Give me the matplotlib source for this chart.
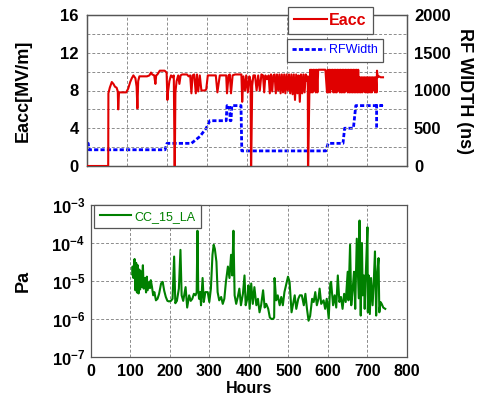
import matplotlib
matplotlib.use("Agg")
import matplotlib.pyplot as plt
from matplotlib.lines import Line2D

plt.rcParams['font.family'] = ['Liberation Sans', 'DejaVu Sans']
plt.rcParams['mathtext.fontset'] = 'custom'
plt.rcParams['mathtext.rm'] = 'Liberation Sans:bold'
plt.rcParams['mathtext.it'] = 'Liberation Sans:bold'
plt.rcParams['mathtext.bf'] = 'Liberation Sans:bold'

# ---------------- data ----------------
# Eacc [MV/m] vs hours (four segments separated by trips to zero)
eacc_h1 = [0, 53, 53.5, 57, 62, 66, 70, 74, 77, 78,
           80, 84, 90, 98, 103, 108, 112, 116, 121, 124,
           126, 128, 131, 140, 150, 156, 160, 163, 168, 171,
           173, 176, 182, 188, 194, 199, 201, 203, 206, 210,
           214, 217]
eacc_v1 = [0, 0, 7.7, 8.3, 8.9, 8.7, 8.4, 8.3, 7.9, 6.0,
           7.8, 7.8, 7.8, 7.8, 8.2, 8.9, 9.3, 9.6, 9.3, 8.4,
           6.1, 9.0, 9.5, 9.5, 9.5, 9.6, 9.9, 9.7, 9.6, 8.7,
           9.6, 9.7, 10.1, 10.1, 10.1, 9.9, 7.0, 8.0, 9.0, 9.6,
           9.4, 9.6]
eacc_h2 = [219, 219.5, 221, 224, 228, 231, 234, 238, 242, 246,
           250, 254, 258, 261, 264, 268, 272, 275, 278, 282,
           286, 290, 294, 298, 302, 308, 314, 318, 322, 326,
           332, 338, 344, 348, 350, 354, 357, 360, 364, 370,
           376, 382, 386, 388, 391, 395, 398, 402, 406, 409,
           410]
eacc_v2 = [0, 0, 7.8, 9.0, 9.6, 8.7, 9.6, 9.7, 9.7, 9.7,
           9.7, 9.5, 9.6, 7.7, 9.6, 9.7, 7.7, 9.7, 7.9, 9.6,
           8.0, 8.0, 8.0, 8.1, 9.6, 9.6, 9.6, 9.6, 9.6, 7.8,
           9.6, 9.6, 9.6, 9.6, 7.7, 9.6, 9.7, 7.7, 9.6, 9.7,
           9.7, 9.7, 9.7, 6.8, 9.5, 8.0, 9.6, 7.8, 9.5, 9.0,
           0]
eacc_h3 = [410.5, 413, 416, 420, 424, 428, 432, 436, 440, 443,
           446, 450, 454, 457, 460, 463, 466, 469, 472, 475,
           478, 481, 484, 487, 490, 493, 496, 499, 502, 505,
           508, 511, 514, 517, 520, 523, 526, 529, 532, 535,
           538, 541, 544, 547, 550, 552, 552.5]
eacc_v3 = [0, 8.5, 9.6, 9.6, 8.0, 9.6, 8.0, 9.7, 9.6, 7.8,
           9.6, 9.2, 9.6, 7.7, 9.7, 7.9, 9.6, 9.7, 7.7, 9.7,
           8.0, 9.7, 7.7, 9.7, 7.8, 9.7, 7.7, 9.7, 8.0, 9.7,
           7.7, 9.7, 7.6, 9.7, 7.0, 9.7, 7.7, 9.6, 6.8, 9.7,
           7.7, 9.7, 7.8, 9.7, 9.0, 9.5, 0]
eacc_h4 = [553, 556, 558, 560, 562, 564, 566, 568, 570, 572,
           574, 576, 578, 580, 584, 590, 596, 600, 602, 604,
           606, 608, 610, 612, 614, 616, 618, 620, 622, 624,
           626, 628, 630, 632, 634, 636, 638, 640, 642, 644,
           646, 648, 650, 652, 654, 656, 658, 660, 662, 664,
           666, 668, 670, 672, 674, 676, 678, 680, 682, 684,
           686, 688, 690, 692, 694, 696, 698, 700, 702, 704,
           706, 708, 710, 712, 714, 716, 718, 720, 722, 724,
           725, 727, 730, 734, 740]
eacc_v4 = [0, 8.0, 10.2, 7.8, 10.2, 7.8, 10.2, 8.0, 10.2, 7.8,
           10.2, 7.8, 10.2, 10.2, 10.2, 10.2, 10.2, 7.8, 10.2, 7.8,
           10.2, 7.8, 10.2, 8.2, 10.2, 7.8, 10.2, 7.8, 10.2, 7.8,
           10.2, 8.0, 10.2, 7.8, 10.2, 7.8, 10.2, 7.8, 10.2, 7.8,
           10.2, 8.0, 10.2, 7.8, 10.2, 7.8, 10.2, 7.8, 10.2, 7.8,
           10.2, 7.8, 10.2, 7.8, 10.2, 7.8, 10.2, 7.8, 9.4, 7.8,
           9.4, 7.8, 9.4, 7.9, 9.4, 7.8, 9.4, 7.8, 9.4, 7.8,
           9.4, 7.8, 9.4, 7.8, 9.4, 8.0, 9.4, 7.8, 9.4, 7.8,
           10.1, 9.4, 9.5, 9.4, 9.4]

# RF pulse width [ns]
rf_h = [0, 3, 5, 195, 200, 261, 282, 298, 307, 348,
        350, 356, 358, 360, 362, 385, 387, 597, 603, 640,
        644, 666, 672, 737, 724, 724]
rf_v = [300, 300, 215, 215, 300, 300, 390, 500, 600, 600,
        800, 800, 600, 600, 800, 800, 200, 200, 300, 300,
        500, 500, 800, 800, 800, 500]

# Vacuum pressure CC_15_LA [Pa]
p_h = [105, 106, 108, 110, 111, 113, 115, 117, 119, 121,
       123, 125, 127, 129, 132, 134, 137, 140, 142, 144,
       148, 150, 152, 155, 158, 161, 165, 169, 173, 178,
       182, 186, 190, 194, 198, 203, 207, 211, 214, 218,
       223, 227, 230, 234, 240, 244, 249, 253, 257, 261,
       265, 268, 270, 272, 274, 277, 279, 283, 286, 290,
       296, 300, 304, 308, 311, 314, 318, 321, 325, 330,
       334, 338, 342, 347, 351, 355, 358, 361, 364, 368,
       372, 376, 380, 385, 389, 392, 396, 399, 402, 406,
       410, 414, 419, 423, 427, 431, 436, 440, 444, 449,
       453, 457, 461, 464, 465, 469, 473, 478, 482, 486,
       490, 495, 499, 503, 508, 512, 516, 520, 525, 529,
       534, 539, 543, 547, 551, 555, 560, 564, 568, 572,
       576, 579, 583, 589, 593, 597, 602, 606, 608, 613,
       617, 621, 625, 629, 633, 637, 641, 645, 650, 652,
       656, 659, 663, 666, 669, 673, 676, 678, 680, 681,
       683, 686, 688, 691, 693, 696, 700, 701, 703, 706,
       709, 713, 716, 719, 722, 724, 728, 730, 733, 736,
       740, 745]
p_v = [1.5e-5, 2.4e-5, 1.2e-5, 3.3e-5, 3.8e-5, 5.7e-6, 3.0e-5, 5.0e-6, 2.6e-5, 4.7e-6,
       2.0e-5, 6.0e-6, 1.8e-5, 7.0e-6, 2.6e-5, 6.3e-6, 1.2e-5, 5.0e-6, 1.3e-5, 5.7e-6,
       9.5e-6, 6.5e-6, 1.05e-5, 7.0e-6, 4.2e-6, 5.1e-6, 3.1e-6, 3.4e-6, 4.6e-6, 8.6e-6,
       9.5e-6, 5.5e-6, 3.8e-6, 3.0e-6, 2.9e-6, 3.0e-6, 3.4e-6, 4.4e-5, 2.6e-6, 3.0e-6,
       6.3e-6, 6.6e-5, 4.2e-6, 3.0e-6, 6.9e-6, 2.0e-6, 4.2e-6, 3.0e-6, 3.4e-6, 4.6e-6,
       4.2e-6, 5.0e-6, 2.1e-4, 6.0e-6, 3.4e-6, 5.1e-6, 2.3e-6, 1.2e-5, 2.8e-6, 5.1e-6,
       5.1e-6, 2.8e-6, 6.3e-6, 4.9e-5, 9.0e-5, 7.0e-5, 3.2e-5, 5.1e-6, 3.1e-6, 3.8e-6,
       2.5e-6, 3.4e-6, 9.5e-6, 2.4e-5, 1.2e-5, 4.9e-5, 1.4e-5, 2.1e-4, 4.2e-6, 2.5e-6,
       3.8e-6, 6.3e-6, 2.3e-6, 4.6e-6, 1.4e-5, 2.3e-6, 3.4e-6, 7.7e-6, 1.85e-6, 8.6e-6,
       2.5e-6, 6.9e-6, 2.3e-6, 3.4e-6, 1.5e-6, 2.3e-6, 5.7e-6, 2.0e-6, 2.5e-6, 1.85e-6,
       1.1e-6, 1.0e-6, 1.0e-6, 1.1e-6, 1.2e-5, 3.1e-6, 4.2e-6, 2.3e-6, 3.8e-6, 2.3e-6,
       5.1e-6, 8.6e-6, 1.3e-5, 9.5e-6, 1.5e-6, 2.5e-6, 4.2e-6, 1.85e-6, 3.4e-6, 4.2e-6,
       4.2e-6, 2.3e-6, 4.6e-6, 1.85e-6, 9.0e-7, 1.2e-6, 3.4e-6, 2.8e-6, 5.1e-6, 2.3e-6,
       3.4e-6, 6.3e-6, 2.5e-6, 3.1e-6, 1.85e-6, 3.4e-6, 1.03e-6, 8.6e-6, 9.5e-6, 2.3e-6,
       4.2e-6, 2.0e-6, 1.4e-5, 2.8e-6, 3.8e-6, 1.85e-6, 4.6e-6, 2.8e-6, 1.75e-5, 3.1e-6,
       9.0e-5, 2.3e-6, 6.9e-6, 1.75e-5, 1.85e-6, 1.3e-4, 1.4e-5, 3.5e-6, 3.9e-4, 2.1e-5,
       1.23e-6, 1.0e-4, 4.2e-6, 1.4e-5, 1.85e-6, 1.75e-5, 2.6e-4, 1.5e-6, 1.4e-5, 1.35e-6,
       1.2e-5, 2.3e-6, 1.0e-5, 6.0e-5, 1.23e-6, 1.2e-5, 4.0e-5, 1.5e-6, 2.8e-6, 2.5e-6,
       2.0e-6, 1.85e-6]

eacc_ticks = [0, 4, 8, 12, 16]
rf_ticks = [0, 500, 1000, 1500, 2000]
hour_ticks = [0, 100, 200, 300, 400, 500, 600, 700, 800]
p_exponents = [-7, -6, -5, -4, -3]

RED = '#e00000'
BLUE = '#0000ff'
GREEN = '#008000'
GRID = dict(color='#8c8c8c', linestyle=(0, (3, 2)), linewidth=0.7)

W, H = 479, 401
fig = plt.figure(figsize=(W / 100, H / 100), dpi=100)

def box(l, t, r, b):
    return [l / W, 1 - b / H, (r - l) / W, (b - t) / H]

# ---------------- top panel ----------------
ax1 = fig.add_axes(box(87, 15, 407, 166))
ax2 = ax1.twinx()
eacc_h = eacc_h1 + eacc_h2 + eacc_h3 + eacc_h4
eacc_v = eacc_v1 + eacc_v2 + eacc_v3 + eacc_v4
l1, = ax1.plot(eacc_h, eacc_v, color=RED, lw=1.5, zorder=3)
l2, = ax2.plot(rf_h, rf_v, color=BLUE, lw=2.0, linestyle=(0, (1.5, 0.8)))
ax1.set_zorder(ax2.get_zorder() + 1)
ax1.patch.set_visible(False)

ax1.set_xlim(0, 800)
ax1.set_ylim(0, 16)
ax2.set_ylim(0, 2000)
ax1.set_xticks(hour_ticks)
ax1.set_xticklabels([])
ax1.set_yticks(eacc_ticks)
ax1.set_yticks([2, 6, 10, 14], minor=True)
ax2.set_yticks(rf_ticks)
ax1.grid(True, which='both', **GRID)
ax1.tick_params(axis='both', which='both', length=0)
ax1.tick_params(axis='y', labelsize=12, pad=6)
ax2.tick_params(axis='y', length=0, labelsize=12, pad=5)
for lab in ax1.get_yticklabels() + ax2.get_yticklabels():
    lab.set_fontweight('bold')
ax1.set_ylabel('Eacc[MV/m]', fontsize=13, fontweight='bold', va='center')
ax1.yaxis.set_label_coords(-0.2, 0.5)
ax2.set_ylabel('RF WIDTH (ns)', fontsize=13, fontweight='bold', rotation=270, va='center')
ax2.yaxis.set_label_coords(1.181, 0.5)

for a in (ax1, ax2):
    for s in a.spines.values():
        s.set_color('#555555')
        s.set_linewidth(0.9)

leg1 = fig.legend([l1], ['Eacc'], loc='upper left', bbox_to_anchor=(288 / W, 1 - 7 / H),
                  prop={'size': 11.5, 'weight': 'bold'}, frameon=True, fancybox=False,
                  borderpad=0.37, handlelength=2.06, handletextpad=0.15, borderaxespad=0)
for t in leg1.get_texts():
    t.set_color(RED)
leg2 = fig.legend([Line2D([], [], color=BLUE, lw=2.0, linestyle=(0, (1.5, 0.8)))], ['RFWidth'],
                  loc='upper left', bbox_to_anchor=(287 / W, 1 - 39 / H),
                  prop={'size': 9}, frameon=True, fancybox=False,
                  borderpad=0.42, handlelength=2.64, handletextpad=0.32, borderaxespad=0)
for t in leg2.get_texts():
    t.set_color(BLUE)
for lg in (leg1, leg2):
    lg.get_frame().set_edgecolor('#555555')
    lg.get_frame().set_linewidth(0.9)
    lg.get_frame().set_alpha(1)

# ---------------- bottom panel ----------------
ax3 = fig.add_axes(box(90.7, 205, 407, 357))
l3, = ax3.plot(p_h, p_v, color=GREEN, lw=1.5)
ax3.set_yscale('log')
ax3.set_xlim(0, 800)
ax3.set_ylim(1e-7, 1e-3)
ax3.set_xticks(hour_ticks)
ax3.set_xticklabels([str(h) for h in hour_ticks])
ax3.set_yticks([10.0 ** e for e in p_exponents])
ax3.set_yticklabels([r'$10^{%d}$' % e for e in p_exponents])
ax3.yaxis.set_minor_locator(matplotlib.ticker.NullLocator())
ax3.grid(True, which='major', **GRID)
ax3.tick_params(axis='both', which='both', length=0)
ax3.tick_params(axis='x', labelsize=11.5, pad=5)
ax3.tick_params(axis='y', labelsize=12, pad=4)
for lab in ax3.get_xticklabels():
    lab.set_fontweight('bold')
ax3.set_ylabel('Pa', fontsize=13, fontweight='bold', va='center')
ax3.yaxis.set_label_coords(-0.214, 0.5)
ax3.set_xlabel('Hours', fontsize=11.5, fontweight='bold', va='center')
ax3.xaxis.set_label_coords(0.5, -0.2105)
for s in ax3.spines.values():
    s.set_color('#555555')
    s.set_linewidth(0.9)

leg3 = ax3.legend([l3], ['CC_15_LA'], loc='upper left',
                  bbox_to_anchor=(box(90.7, 205, 407, 357)[0] + 0, 1 - 205 / H),
                  bbox_transform=fig.transFigure,
                  prop={'size': 9}, frameon=True, fancybox=False,
                  borderpad=0.45, handlelength=2.5, handletextpad=0.3, borderaxespad=0)
leg3.set_bbox_to_anchor((94 / W, 1 - 205 / H), transform=fig.transFigure)
for t in leg3.get_texts():
    t.set_color(GREEN)
leg3.get_frame().set_edgecolor('#555555')
leg3.get_frame().set_linewidth(0.9)
leg3.get_frame().set_alpha(1)

fig.savefig('out.png', dpi=100)
